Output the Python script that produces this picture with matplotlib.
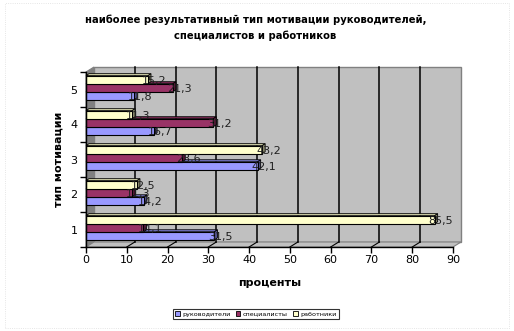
import matplotlib.pyplot as plt
import matplotlib.transforms as mtransforms
from matplotlib.patches import Polygon, Rectangle, Patch
import numpy as np

# Data: share (%) naming each motivation type as most effective
categories = ['1', '2', '3', '4', '5']
series_names = ['руководители', 'специалисты', 'работники']
rukovoditeli = [31.5, 14.2, 42.1, 16.7, 11.8]
specialisty = [14.1, 11.3, 23.6, 31.2, 21.3]
rabotniki = [85.5, 12.5, 43.2, 11.3, 15.2]
colors = ['#9999FF', '#993366', '#FFFFCC']
xticks = [0, 10, 20, 30, 40, 50, 60, 70, 80, 90]

plt.rcParams['font.family'] = ['DejaVu Sans']

W, H = 514, 331
fig = plt.figure(figsize=(W / 100, H / 100), dpi=100)
fig.patch.set_facecolor('white')

# front plane of the 3d box in pixels
px_l, px_r, px_t, px_b = 86, 453, 72, 247
ax = fig.add_axes([px_l / W, 1 - px_b / H, (px_r - px_l) / W, (px_b - px_t) / H])
ax.set_xlim(0, 90)
ax.set_ylim(0.5, 5.5)
ax.patch.set_visible(False)

WALL_DX, WALL_DY = 8, 5   # depth offset of the back wall, px
BAR_DX, BAR_DY = 3, 2     # depth of each bar, px
ident = mtransforms.IdentityTransform()


def px(x, y):
    return ax.transData.transform((x, y))


def shade(c, k):
    r, g, b = [int(c[i:i + 2], 16) / 255 for i in (1, 3, 5)]
    return (r * k, g * k, b * k)


def poly(pts, **kw):
    ax.add_patch(Polygon(pts, closed=True, transform=ident, clip_on=False, **kw))


# back wall, left wall and floor
bl, br = px(0, 0.5), px(90, 0.5)
tl, tr = px(0, 5.5), px(90, 5.5)
off = np.array([WALL_DX, WALL_DY])
poly([bl + off, br + off, tr + off, tl + off], facecolor='#C0C0C0',
     edgecolor='#808080', lw=1, zorder=0)
poly([bl, bl + off, tl + off, tl], facecolor='#808080', edgecolor='#808080',
     lw=0.8, zorder=0.2)
poly([bl, br, br + off, bl + off], facecolor='#C0C0C0', edgecolor='#808080',
     lw=0.8, zorder=0.2)

# gridlines on the back wall and their traces on the floor
for v in xticks[1:-1]:
    b0, t0 = px(v, 0.5), px(v, 5.5)
    ax.plot([b0[0] + WALL_DX, t0[0] + WALL_DX], [b0[1] + WALL_DY, t0[1] + WALL_DY],
            color='black', lw=1.1, transform=ident, zorder=0.5, clip_on=False)
    ax.plot([b0[0], b0[0] + WALL_DX], [b0[1], b0[1] + WALL_DY],
            color='black', lw=0.8, transform=ident, zorder=0.5, clip_on=False)

# 3d bars, drawn bottom-up so upper bars cover the caps beneath them
ypos = np.arange(1, len(categories) + 1)
h = 0.23
series = [rukovoditeli, specialisty, rabotniki]
for i, yc in enumerate(ypos):
    for j, (vals, col) in enumerate(zip(series, colors)):
        v = vals[i]
        y = yc + (j - 1) * h + 0.05
        z = 2 + i * 3 + j * 0.5
        ax.barh(y, v, height=h, color=col, edgecolor='black', lw=0.8, zorder=z,
                clip_on=False)
        p0, p1 = px(0, y + h / 2), px(v, y + h / 2)
        p2 = px(v, y - h / 2)
        d = np.array([BAR_DX, BAR_DY])
        poly([p0, p1, p1 + d, p0 + d], facecolor=shade(col, 0.85),
             edgecolor='black', lw=0.6, zorder=z - 0.1)
        poly([p1, p2, p2 + d, p1 + d], facecolor=shade(col, 0.55),
             edgecolor='black', lw=0.6, zorder=z - 0.1)
        ax.annotate(f'{v:.1f}'.replace('.', ','), (v, y), xytext=(-6, -1),
                    textcoords='offset pixels', ha='left', va='center',
                    fontsize=8, color='#202020', zorder=50)

ax.set_xticks(xticks)
ax.set_xticklabels([str(t) for t in xticks], fontsize=8)
ax.set_yticks(ypos)
ax.set_yticklabels(categories, fontsize=8)
ax.set_yticks(np.arange(0.5, 6, 1), minor=True)
ax.tick_params(axis='y', which='major', length=0, pad=6)
ax.tick_params(axis='y', which='minor', length=4, width=1, direction='out')
ax.tick_params(axis='x', length=4, width=1, direction='out', pad=2)
for s in ('top', 'right'):
    ax.spines[s].set_visible(False)
ax.spines['left'].set_linewidth(1)
ax.spines['bottom'].set_linewidth(1)
ax.spines['left'].set_zorder(60)

ax.set_xlabel('проценты', fontsize=8, fontweight='bold', labelpad=9)
ax.set_ylabel('тип мотивации', fontsize=8, fontweight='bold', labelpad=5)

fig.text(0.497, 1 - 28 / H,
         'наиболее результативный тип мотивации руководителей,\nспециалистов и работников',
         ha='center', va='center', fontsize=7.2, fontweight='bold', linespacing=1.7)

handles = [Patch(facecolor=c, edgecolor='black', lw=0.6) for c in colors]
leg = fig.legend(handles, series_names, loc='center', bbox_to_anchor=(256 / W, 1 - 314 / H),
                 ncol=3, fontsize=4.6, frameon=True, fancybox=False,
                 handlelength=0.7, handleheight=0.7, handletextpad=0.4,
                 columnspacing=0.8, borderpad=0.35, borderaxespad=0)
leg.get_frame().set_edgecolor('black')
leg.get_frame().set_linewidth(0.8)

# faint dotted border around the chart area
fig.patches.append(Rectangle((0.01, 0.01), 0.98, 0.98, transform=fig.transFigure,
                             fill=False, edgecolor='#DDDDDD', lw=0.6, ls=':'))

fig.savefig('out.png', dpi=100)
